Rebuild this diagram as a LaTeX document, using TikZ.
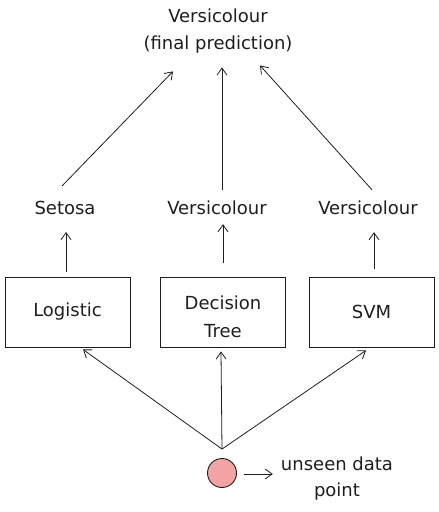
\documentclass[tikz,border=0pt]{standalone}
\usepackage{fontspec}
\setmainfont{DejaVu Sans}
\usetikzlibrary{arrows.meta,calc}
\definecolor{ink}{HTML}{1E1E1E}
\definecolor{dotfill}{HTML}{F2A3A3}
\begin{document}
\begin{tikzpicture}[x=1pt,y=-1pt,
  every node/.style={text=ink,font=\fontsize{18}{22}\selectfont},
  lbl/.style={inner sep=1pt},
  modelbox/.style={draw=ink,line width=0.9pt,minimum width=125pt,minimum height=70pt,align=center,inner sep=2pt},
  arr/.style={draw=ink,line width=0.8pt,-{Straight Barb[length=7pt,width=10pt]}},
  dot/.style={circle,draw=ink,line width=0.9pt,fill=dotfill,minimum size=29pt,inner sep=0pt}]
\useasboundingbox (0,0) rectangle (439,512);
\node[lbl,align=center] (top) at (218,31) {Versicolour\\[5pt](final prediction)};
\node[lbl] (setosa) at (65,208) {Setosa};
\node[lbl] (vers1) at (217,208) {Versicolour};
\node[lbl] (vers2) at (368,208) {Versicolour};
\node[modelbox] (logistic) at (67.5,312) {Logistic};
\node[modelbox] (tree) at (223,312) {\rule{0pt}{24pt}Decision\\[6pt]Tree};
\node[modelbox] (svm) at (371.5,312) {SVM};
\node[dot] (data) at (222,473) {};
\node[lbl,align=center] (unseen) at (337,479) {unseen data\\[4pt]point};
% predictions to final
\draw[arr] ($(setosa.north)+(-3,-14)$) -- ($(top.south)+(-45,17)$);
\draw[arr] ($(vers1.north)+(5,-10)$) -- ($(top.south)+(4,13)$);
\draw[arr] ($(vers2.north)+(4,-10)$) -- ($(top.south)+(42,11)$);
% models to predictions
\draw[arr] ($(logistic.north)+(-1.5,-5)$) -- ($(setosa.south)+(1,16)$);
\draw[arr] ($(tree.north)+(0,-14)$) -- ($(vers1.south)+(6,8)$);
\draw[arr] ($(svm.north)+(2.5,-8)$) -- ($(vers2.south)+(6,16)$);
% data point to models
\draw[arr] ($(data.north)+(0,-9)$) -- ($(logistic.south)+(15.5,2)$);
\draw[arr] ($(data.north)+(0,-9)$) -- ($(tree.south)+(-2,4)$);
\draw[arr] ($(data.north)+(0,-9)$) -- ($(svm.south)+(-5.5,3)$);
% data point to label
\draw[arr] ($(data.east)+(7.5,1)$) -- ($(unseen.west)+(-7,-5)$);
\end{tikzpicture}
\end{document}
